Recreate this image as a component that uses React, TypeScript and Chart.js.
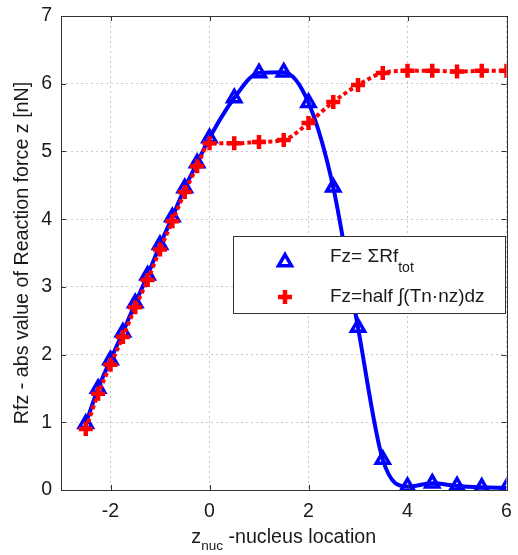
import React, { useEffect, useRef } from 'react';
import { Chart, registerables } from 'chart.js';

Chart.register(...registerables);

// ---- data ----
const zPositions = [-2.5, -2.25, -2, -1.75, -1.5, -1.25, -1, -0.75, -0.5, -0.25, 0, 0.5, 1, 1.5, 2, 2.5, 3, 3.5, 4, 4.5, 5, 5.5, 6];
const fzSumRf = [0.98, 1.5, 1.92, 2.33, 2.76, 3.17, 3.62, 4.03, 4.46, 4.83, 5.2, 5.79, 6.16, 6.17, 5.72, 4.47, 2.4, 0.45, 0.05, 0.1, 0.06, 0.04, 0.03];
const fzHalfIntegral = [0.9, 1.42, 1.85, 2.26, 2.7, 3.1, 3.55, 3.97, 4.4, 4.78, 5.12, 5.12, 5.14, 5.17, 5.42, 5.73, 5.98, 6.16, 6.19, 6.19, 6.18, 6.19, 6.19];
const xTickValues = [-2, 0, 2, 4, 6];
const yTickValues = [0, 1, 2, 3, 4, 5, 6, 7];
const xRange = [-3, 6];
const yRange = [0, 7];
const legendMain1 = 'Fz= ΣRf';
const legendSub1 = 'tot';
const legendMain2 = 'Fz=half ∫(Tn·nz)dz';
const xTitleMain = 'z';
const xTitleSub = 'nuc';
const xTitleRest = ' -nucleus location';
const yTitle = 'Rfz - abs value of Reaction force z [nN]';

const FONT = "'Liberation Sans', Arial, sans-serif";
const BLUE = '#0000ff';
const RED = '#ff0000';
const AXIS = '#333333';

function drawTriangle(ctx: CanvasRenderingContext2D, x: number, y: number, r: number) {
  ctx.beginPath();
  let rad = 0;
  for (let i = 0; i < 3; i++) {
    const px = x + Math.sin(rad) * r;
    const py = y - Math.cos(rad) * r;
    if (i === 0) ctx.moveTo(px, py);
    else ctx.lineTo(px, py);
    rad += (2 * Math.PI) / 3;
  }
  ctx.closePath();
  ctx.stroke();
}

const decorPlugin = {
  id: 'decor',
  afterDraw(chart: any) {
    const ctx: CanvasRenderingContext2D = chart.ctx;
    const area = chart.chartArea;
    const xs = chart.scales.x;
    const ys = chart.scales.y;
    ctx.save();
    // frame
    ctx.strokeStyle = AXIS;
    ctx.lineWidth = 1;
    ctx.strokeRect(Math.round(area.left) + 0.5, Math.round(area.top) + 0.5, Math.round(area.right - area.left), Math.round(area.bottom - area.top));
    // inward ticks
    const tl = 5;
    ctx.beginPath();
    xTickValues.forEach((v) => {
      const px = Math.round(xs.getPixelForValue(v)) + 0.5;
      ctx.moveTo(px, area.bottom);
      ctx.lineTo(px, area.bottom - tl);
      ctx.moveTo(px, area.top);
      ctx.lineTo(px, area.top + tl);
    });
    yTickValues.forEach((v) => {
      const py = Math.round(ys.getPixelForValue(v)) + 0.5;
      ctx.moveTo(area.left, py);
      ctx.lineTo(area.left + tl, py);
      ctx.moveTo(area.right, py);
      ctx.lineTo(area.right - tl, py);
    });
    ctx.stroke();

    // axis titles
    ctx.fillStyle = '#1a1a1a';
    ctx.textBaseline = 'alphabetic';
    const mainFont = `19.7px ${FONT}`;
    const subFont = `13.5px ${FONT}`;
    ctx.font = mainFont;
    const wz = ctx.measureText(xTitleMain).width;
    const wr = ctx.measureText(xTitleRest).width;
    ctx.font = subFont;
    const wn = ctx.measureText(xTitleSub).width;
    const total = wz + wn + wr;
    let sx = (area.left + area.right) / 2 - total / 2;
    const baseY = 543;
    ctx.textAlign = 'left';
    ctx.font = mainFont;
    ctx.fillText(xTitleMain, sx, baseY);
    sx += wz;
    ctx.font = subFont;
    ctx.fillText(xTitleSub, sx, baseY + 7);
    sx += wn;
    ctx.font = mainFont;
    ctx.fillText(xTitleRest, sx, baseY);

    ctx.save();
    ctx.translate(23, (area.top + area.bottom) / 2);
    ctx.rotate(-Math.PI / 2);
    ctx.textAlign = 'center';
    ctx.textBaseline = 'middle';
    ctx.font = mainFont;
    ctx.fillText(yTitle, 0, 0);
    ctx.restore();

    // legend
    const lx = 233, ly = 236, lw = 272, lh = 77;
    ctx.fillStyle = '#ffffff';
    ctx.fillRect(lx, ly, lw, lh);
    ctx.strokeStyle = AXIS;
    ctx.lineWidth = 1;
    ctx.strokeRect(lx + 0.5, ly + 0.5, lw, lh);

    ctx.strokeStyle = BLUE;
    ctx.lineWidth = 3.5;
    ctx.lineJoin = 'miter';
    drawTriangle(ctx, 285, 262, 7.5);

    ctx.strokeStyle = RED;
    ctx.lineWidth = 4.5;
    ctx.beginPath();
    ctx.moveTo(285, 297 - 7);
    ctx.lineTo(285, 297 + 7);
    ctx.moveTo(285 - 7, 297);
    ctx.lineTo(285 + 7, 297);
    ctx.stroke();

    ctx.fillStyle = '#1a1a1a';
    ctx.textAlign = 'left';
    ctx.textBaseline = 'middle';
    ctx.font = `19px ${FONT}`;
    ctx.fillText(legendMain1, 330, 257);
    const w1 = ctx.measureText(legendMain1).width;
    ctx.font = `14px ${FONT}`;
    ctx.fillText(legendSub1, 330 + w1, 268);
    ctx.font = `19px ${FONT}`;
    ctx.fillText(legendMain2, 330, 297);
    ctx.restore();
  },
};

export default function App() {
  const ref = useRef<HTMLCanvasElement | null>(null);
  useEffect(() => {
    if (!ref.current) return;
    const blueData = zPositions.map((x, i) => ({ x, y: fzSumRf[i] }));
    const redData = zPositions.map((x, i) => ({ x, y: fzHalfIntegral[i] }));
    const chart = new Chart(ref.current, {
      type: 'line',
      data: {
        datasets: [
          {
            label: legendMain1 + legendSub1,
            data: blueData,
            borderColor: BLUE,
            borderWidth: 4,
            cubicInterpolationMode: 'monotone',
            pointStyle: 'triangle',
            pointRadius: 7.5,
            pointBorderWidth: 3.5,
            pointBorderColor: BLUE,
            pointBackgroundColor: 'rgba(0,0,0,0)',
            fill: false,
            order: 1,
          },
          {
            label: legendMain2,
            data: redData,
            borderColor: RED,
            borderWidth: 4,
            borderDash: [4, 3],
            borderCapStyle: 'butt',
            cubicInterpolationMode: 'monotone',
            pointStyle: 'cross',
            pointRadius: 7,
            pointBorderWidth: 4.5,
            pointBorderColor: RED,
            pointBackgroundColor: RED,
            fill: false,
            order: 0,
          },
        ],
      },
      options: {
        responsive: false,
        animation: false,
        parsing: true,
        layout: { padding: { top: 16, right: 9, left: 0, bottom: 0 } },
        plugins: {
          legend: { display: false },
          tooltip: { enabled: false },
          title: { display: false },
        },
        scales: {
          x: {
            type: 'linear',
            min: xRange[0],
            max: xRange[1],
            afterBuildTicks: (scale: any) => {
              scale.ticks = xTickValues.map((v) => ({ value: v }));
            },
            afterFit: (scale: any) => {
              scale.height = 65;
              scale.paddingLeft = 0;
              scale.paddingRight = 0;
            },
            grid: { color: '#c8c8c8', lineWidth: 1, drawTicks: false },
            border: { display: false, dash: [2, 3] },
            ticks: {
              color: '#1a1a1a',
              font: { family: FONT, size: 19.5 },
              padding: 10,
              maxRotation: 0,
            },
          },
          y: {
            type: 'linear',
            min: yRange[0],
            max: yRange[1],
            afterBuildTicks: (scale: any) => {
              scale.ticks = yTickValues.map((v) => ({ value: v }));
            },
            afterFit: (scale: any) => {
              scale.width = 61;
              scale.paddingTop = 0;
              scale.paddingBottom = 0;
            },
            grid: { color: '#c8c8c8', lineWidth: 1, drawTicks: false },
            border: { display: false, dash: [2, 3] },
            ticks: {
              color: '#1a1a1a',
              font: { family: FONT, size: 19.5 },
              padding: 9,
            },
          },
        },
      },
      plugins: [decorPlugin],
    } as any);
    return () => chart.destroy();
  }, []);
  return (
    <div style={{ position: 'absolute', left: 0, top: 0, width: 518, height: 555, background: '#fff' }}>
      <canvas ref={ref} width={518} height={555} style={{ width: 518, height: 555, display: 'block' }} />
    </div>
  );
}
